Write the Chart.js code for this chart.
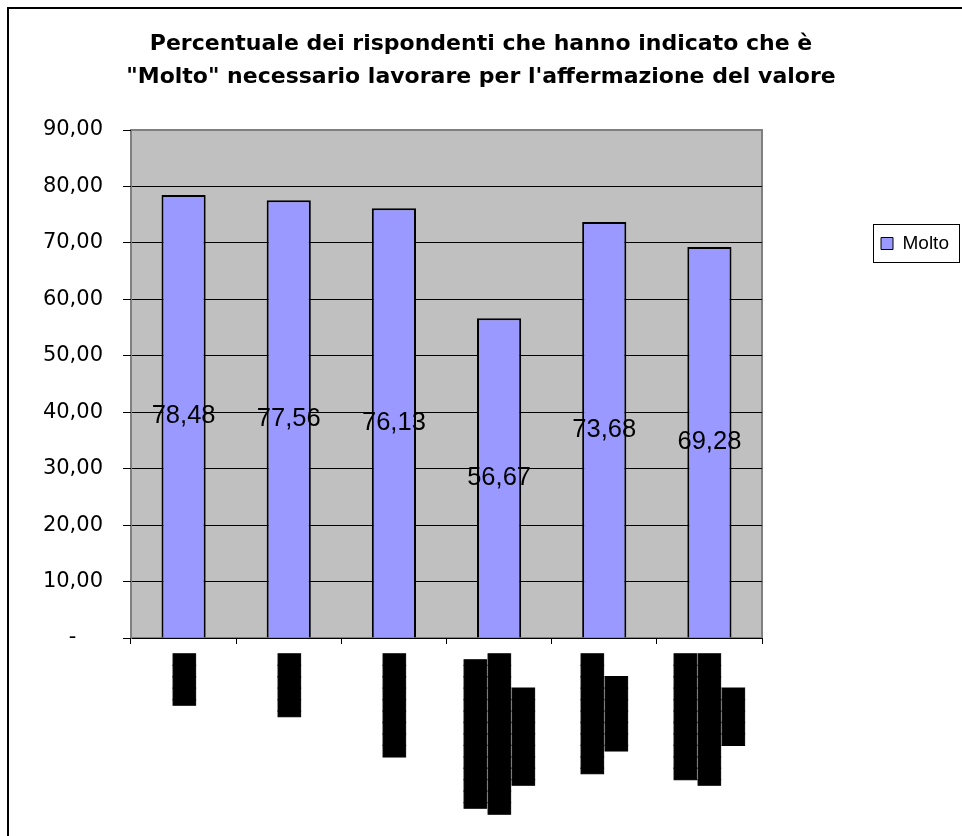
<!DOCTYPE html>
<html>
<head>
<meta charset="utf-8">
<script src="https://cdn.jsdelivr.net/npm/chart.js@4.4.1/dist/chart.umd.min.js"></script>
<style>
  html, body { margin: 0; padding: 0; background: #ffffff; }
  #frame { position: absolute; left: 7px; top: 7px; width: 1200px; height: 1200px;
           border-left: 2px solid #000; border-top: 2px solid #000; z-index: 0; }
  #wrap { position: absolute; left: 0; top: 0; width: 962px; height: 836px; z-index: 1; }
</style>
</head>
<body>
<div id="frame"></div>
<div id="wrap"><canvas id="c" width="962" height="836"></canvas></div>
<script>
// ---- data ----
const titleLines = [
  "Percentuale dei rispondenti che hanno indicato che è",
  "\"Molto\" necessario lavorare per l'affermazione del valore"
];
const seriesName = "Molto";
// category labels (unreadable in the source: rendered as solid black glyph blocks)
const categories = [
  ["", "", "▐████"],
  ["", "", "▐█████"],
  ["", "", "█████████"],
  ["▐████████████▌", "", "██████████████", "", "▐████████   "],
  ["", "▐██████████", "", "▐██████  "],
  ["███████████", "", "▐███████████", "", "█████   "]
];
const values = [78.48, 77.56, 76.13, 56.67, 73.68, 69.28];
const yTicks = [0, 10, 20, 30, 40, 50, 60, 70, 80, 90];

const fmt = v => v.toFixed(2).replace('.', ',');

const plotBg = {
  id: 'plotBg',
  beforeDraw(chart) {
    const {ctx, chartArea: a} = chart;
    ctx.save();
    ctx.fillStyle = '#C0C0C0';
    ctx.fillRect(a.left, a.top, a.right - a.left, a.bottom - a.top);
    ctx.strokeStyle = '#808080';
    ctx.lineWidth = 2;
    ctx.strokeRect(a.left, a.top, a.right - a.left, a.bottom - a.top);
    ctx.restore();
  }
};

const valueLabels = {
  id: 'valueLabels',
  afterDatasetsDraw(chart) {
    const {ctx} = chart;
    const meta = chart.getDatasetMeta(0);
    ctx.save();
    ctx.font = '25.5px "Liberation Sans", Arial, sans-serif';
    ctx.fillStyle = '#000';
    ctx.textAlign = 'center';
    ctx.textBaseline = 'middle';
    meta.data.forEach((bar, i) => {
      const p = bar.getProps(['x', 'y', 'base'], true);
      ctx.fillText(fmt(chart.data.datasets[0].data[i]), p.x, (p.y + p.base) / 2);
    });
    ctx.restore();
  }
};

const layoutTweaks = {
  id: 'layoutTweaks',
  afterLayout(chart) {
    // title centred over the whole canvas
    const tb = chart.titleBlock;
    if (tb) { tb.left = 0; tb.right = chart.width; tb.width = chart.width; }
    // legend placed to the right of the plot
    const lg = chart.legend;
    const w = lg.width;
    lg.left = 873; lg.right = lg.left + w;
    lg.top = 226; lg.bottom = lg.top + 40;
    lg.height = 40;
  },
  afterDraw(chart) {
    const lg = chart.legend;
    const {ctx} = chart;
    ctx.save();
    ctx.strokeStyle = '#000';
    ctx.lineWidth = 1;
    ctx.strokeRect(Math.round(lg.left) + 0.5, lg.top - 1.5, Math.round(lg.width), 38);
    ctx.restore();
  }
};

new Chart(document.getElementById('c'), {
  type: 'bar',
  data: {
    labels: categories,
    datasets: [{
      label: seriesName,
      data: values,
      backgroundColor: '#9999FF',
      borderColor: '#000000',
      borderWidth: 2,
      barPercentage: 0.42,
      categoryPercentage: 1.0
    }]
  },
  options: {
    responsive: false,
    animation: false,
    devicePixelRatio: 1,
    layout: { padding: { left: 0, right: 200, top: 0, bottom: 0 } },
    plugins: {
      title: {
        display: true,
        text: titleLines,
        color: '#000',
        font: { family: '"DejaVu Sans", sans-serif', size: 22, weight: 'bold', lineHeight: 1.5 },
        padding: { top: 27.5, bottom: 36.5 }
      },
      legend: {
        display: true,
        position: 'chartArea',
        align: 'start',
        labels: {
          color: '#000',
          font: { family: '"Liberation Sans", Arial, sans-serif', size: 19 },
          boxWidth: 12,
          boxHeight: 12,
          padding: 8,
          generateLabels(chart) {
            const items = Chart.defaults.plugins.legend.labels.generateLabels(chart);
            items.forEach(it => { it.lineWidth = 1; });
            return items;
          }
        }
      },
      tooltip: { enabled: false }
    },
    scales: {
      x: {
        offset: true,
        grid: { display: true, drawOnChartArea: false, drawTicks: true, tickLength: 6, color: '#000', offset: true },
        border: { display: true, color: '#000', width: 1 },
        ticks: {
          autoSkip: false,
          minRotation: 90,
          maxRotation: 90,
          padding: 10,
          labelOffset: -22,
          color: '#000',
          textStrokeColor: '#000',
          textStrokeWidth: 1,
          font: { family: '"DejaVu Sans Mono", monospace', size: 19, lineHeight: '12px' }
        },
        afterFit(s) { s.height = 198; }
      },
      y: {
        min: 0,
        max: 90,
        afterBuildTicks(s) { s.ticks = yTicks.map(v => ({ value: v })); },
        grid: {
          color: c => (c.tick && c.tick.value === 90) ? '#808080' : '#000',
          tickColor: '#000',
          tickLength: 8,
          lineWidth: 1
        },
        border: { display: true, color: '#808080', width: 1 },
        ticks: {
          padding: 20,
          color: '#000',
          font: { family: '"DejaVu Sans", sans-serif', size: 21 },
          callback: v => v === 0 ? '-    ' : fmt(v)
        },
        afterFit(s) { s.width = 131; }
      }
    }
  },
  plugins: [plotBg, valueLabels, layoutTweaks]
});
</script>
</body>
</html>
